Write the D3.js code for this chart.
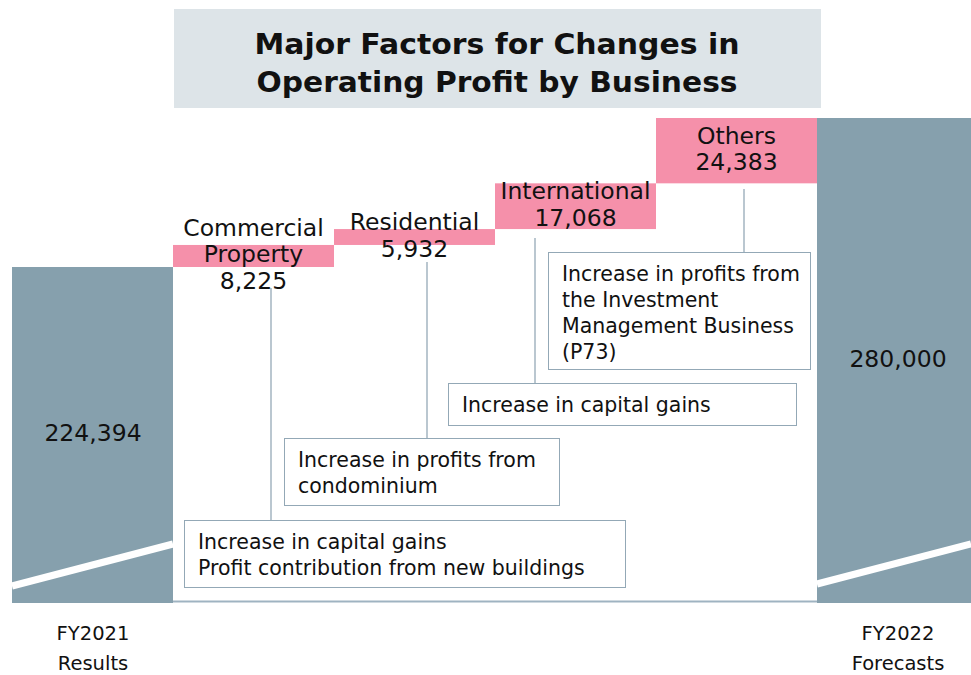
<!DOCTYPE html>
<html><head><meta charset="utf-8">
<script src="https://cdn.jsdelivr.net/npm/d3@7"></script>
<style>body{margin:0;background:#fff}svg{display:block}text{font-family:"DejaVu Sans",Verdana,sans-serif;fill:#111}</style>
</head><body><svg id="c" width="971" height="675"></svg>
<script>
const title = ["Major Factors for Changes in", "Operating Profit by Business"];
const categories = ["FY2021 Results", "Commercial Property", "Residential", "International", "Others", "FY2022 Forecasts"];
const startValue = 224394;
const deltas = [8225, 5932, 17068, 24383];
const endValue = 280000;
const barLabels = [["224,394"], ["Commercial", "Property", "8,225"], ["Residential", "5,932"], ["International", "17,068"], ["Others", "24,383"], ["280,000"]];
const axisLabels = [["FY2021", "Results"], null, null, null, null, ["FY2022", "Forecasts"]];
const notes = [
  ["Increase in capital gains", "Profit contribution from new buildings"],
  ["Increase in profits from", "condominium"],
  ["Increase in capital gains"],
  ["Increase in profits from", "the Investment", "Management Business", "(P73)"]
];

const svg = d3.select("#c");
const x = d3.scaleBand().domain(categories).range([12, 978]).padding(0);
const y = d3.scaleLinear().domain([99000, 280000]).range([603, 118]);

const rows = [];
rows.push({cat: categories[0], y0: y.domain()[0], y1: startValue, total: true});
let run = startValue;
deltas.forEach((d, i) => { rows.push({cat: categories[i + 1], y0: run, y1: run + d, total: false}); run += d; });
rows.push({cat: categories[5], y0: y.domain()[0], y1: endValue, total: true});

// title
svg.append("rect").attr("x", 174).attr("y", 9).attr("width", 647).attr("height", 99).attr("fill", "#dde4e8");
title.forEach((t, i) => {
  svg.append("text").attr("x", 497).attr("y", 54 + i * 38).attr("text-anchor", "middle")
    .attr("font-weight", "bold").attr("font-size", 29)
    .attr("textLength", i === 0 ? 485 : 481).attr("lengthAdjust", "spacingAndGlyphs").text(t);
});

// bars
svg.append("g").selectAll("rect").data(rows).join("rect")
  .attr("x", d => x(d.cat)).attr("width", x.bandwidth())
  .attr("y", d => y(d.y1)).attr("height", d => y(d.y0) - y(d.y1))
  .attr("fill", d => d.total ? "#86a0ad" : "#f590aa");

// axis baseline
svg.append("line").attr("x1", x(categories[1])).attr("x2", x(categories[5]))
  .attr("y1", 601.5).attr("y2", 601.5).attr("stroke", "#9fb3c1").attr("stroke-width", 2);

// break stripes on total bars
[0, 5].forEach(i => {
  const x0 = x(categories[i]), x1 = Math.min(971, x0 + x.bandwidth());
  const yl = i === 0 ? 586 : 584, yr = 544;
  svg.append("line").attr("x1", x0).attr("y1", yl).attr("x2", x1).attr("y2", yr)
    .attr("stroke", "#fff").attr("stroke-width", 7);
});

// connectors
const conn = [[271, 288, 520], [427, 262, 438], [535, 238, 383], [744, 189, 252]];
conn.forEach(c => svg.append("line").attr("x1", c[0]).attr("x2", c[0]).attr("y1", c[1]).attr("y2", c[2])
  .attr("stroke", "#a3b5c1").attr("stroke-width", 1.5));

// note boxes
const boxes = [[184, 520, 441, 67], [284, 438, 275, 67], [448, 383, 348, 42], [548, 252, 262, 117]];
notes.forEach((lines, i) => {
  const b = boxes[i];
  svg.append("rect").attr("x", b[0] + 0.5).attr("y", b[1] + 0.5).attr("width", b[2]).attr("height", b[3])
    .attr("fill", "#fff").attr("stroke", "#93a8b6").attr("stroke-width", 1);
  lines.forEach((t, j) => svg.append("text").attr("x", b[0] + 14).attr("y", b[1] + 29 + j * 26)
    .attr("font-size", 20.5).text(t));
});

// bar labels
rows.forEach((r, i) => {
  const lines = barLabels[i];
  const cx = x(r.cat) + x.bandwidth() / 2;
  let cy = (y(r.y0) + y(r.y1)) / 2 - 2;
  const labX = i === 5 ? 898 : (i === 0 ? 93 : cx);
  const lh = 26.5;
  lines.forEach((t, j) => svg.append("text").attr("x", labX).attr("y", cy + (j - (lines.length - 1) / 2) * lh)
    .attr("dy", "0.36em").attr("text-anchor", "middle").attr("font-size", 23.5).text(t));
});

// category axis labels
axisLabels.forEach((l, i) => {
  if (!l) return;
  const cx = i === 0 ? 93 : 898;
  l.forEach((t, j) => svg.append("text").attr("x", cx).attr("y", 633 + j * 30).attr("dy", "0.36em")
    .attr("text-anchor", "middle").attr("font-size", 19.5).text(t));
});
</script></body></html>
